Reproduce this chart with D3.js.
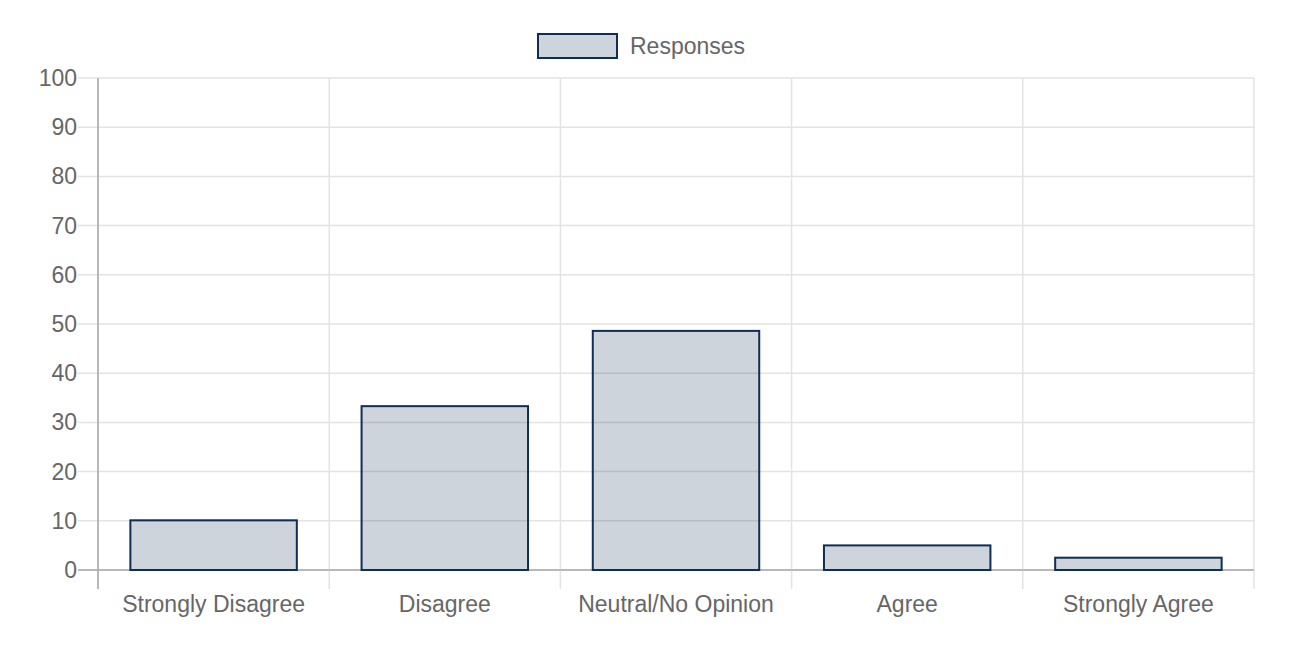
<!DOCTYPE html>
<html><head><meta charset="utf-8">
<script src="https://cdn.jsdelivr.net/npm/d3@7"></script>
<style>body{margin:0;background:#fff}svg{display:block}text{font-family:"Liberation Sans",Helvetica,Arial,sans-serif}</style>
</head><body><svg id="c" width="1311" height="668"></svg>
<script>
const categories = ["Strongly Disagree","Disagree","Neutral/No Opinion","Agree","Strongly Agree"];
const responses = [10.1, 33.3, 48.6, 5, 2.5];
const yTicks = [0,10,20,30,40,50,60,70,80,90,100];
const seriesName = "Responses";

const svg = d3.select("#c");
const m = {l:98, r:1254, t:78, b:570};
const x = d3.scaleBand().domain(categories).range([m.l, m.r]);
const y = d3.scaleLinear().domain([0,100]).range([m.b, m.t]);
const grid = "#e3e3e3", axisC = "#b3b3b3", txt = "#666";
const fill = "rgba(5,40,80,0.2)", stroke = "#0f2e52";
const fs = 23;

// horizontal grid + left ticks
svg.append("g").selectAll("line").data(yTicks).join("line")
  .attr("x1", m.l-20).attr("x2", m.r).attr("y1", d=>y(d)).attr("y2", d=>y(d))
  .attr("stroke", d=> d===0 ? axisC : grid).attr("stroke-width", 1.5);
// vertical grid lines at category boundaries
const bounds = categories.map(c=>x(c)).concat([m.r]);
svg.append("g").selectAll("line").data(bounds).join("line")
  .attr("x1", d=>d).attr("x2", d=>d).attr("y1", m.t).attr("y2", m.b+19)
  .attr("stroke", (d,i)=> i===0 ? axisC : grid).attr("stroke-width", 1.5);
svg.append("line").attr("x1", m.l-20).attr("x2", m.r).attr("y1", y(0)).attr("y2", y(0))
  .attr("stroke", axisC).attr("stroke-width", 1.5);
svg.append("line").attr("x1", m.l).attr("x2", m.l).attr("y1", m.t).attr("y2", m.b+19)
  .attr("stroke", axisC).attr("stroke-width", 1.5);

// y labels
svg.append("g").selectAll("text").data(yTicks).join("text")
  .attr("x", 77).attr("y", d=>y(d)).attr("dy","0.35em").attr("text-anchor","end")
  .attr("font-size", fs).attr("fill", txt).text(d=>d);
// x labels
svg.append("g").selectAll("text").data(categories).join("text")
  .attr("x", d=>x(d)+x.bandwidth()/2).attr("y", 604).attr("dy","0.35em").attr("text-anchor","middle")
  .attr("font-size", fs).attr("fill", txt).text(d=>d);

// bars
const bw = x.bandwidth()*0.72;
svg.append("g").selectAll("rect").data(categories).join("rect")
  .attr("x", d=>x(d)+(x.bandwidth()-bw)/2).attr("width", bw)
  .attr("y", (d,i)=>y(responses[i])).attr("height", (d,i)=>y(0)-y(responses[i]))
  .attr("fill", fill).attr("stroke", stroke).attr("stroke-width", 2);

// legend
const lg = svg.append("g");
lg.append("rect").attr("x", 538).attr("y", 34).attr("width", 79).attr("height", 24)
  .attr("fill", fill).attr("stroke", stroke).attr("stroke-width", 2);
lg.append("text").attr("x", 630).attr("y", 46).attr("dy","0.35em").attr("font-size", fs)
  .attr("fill", txt).text(seriesName);
</script></body></html>
